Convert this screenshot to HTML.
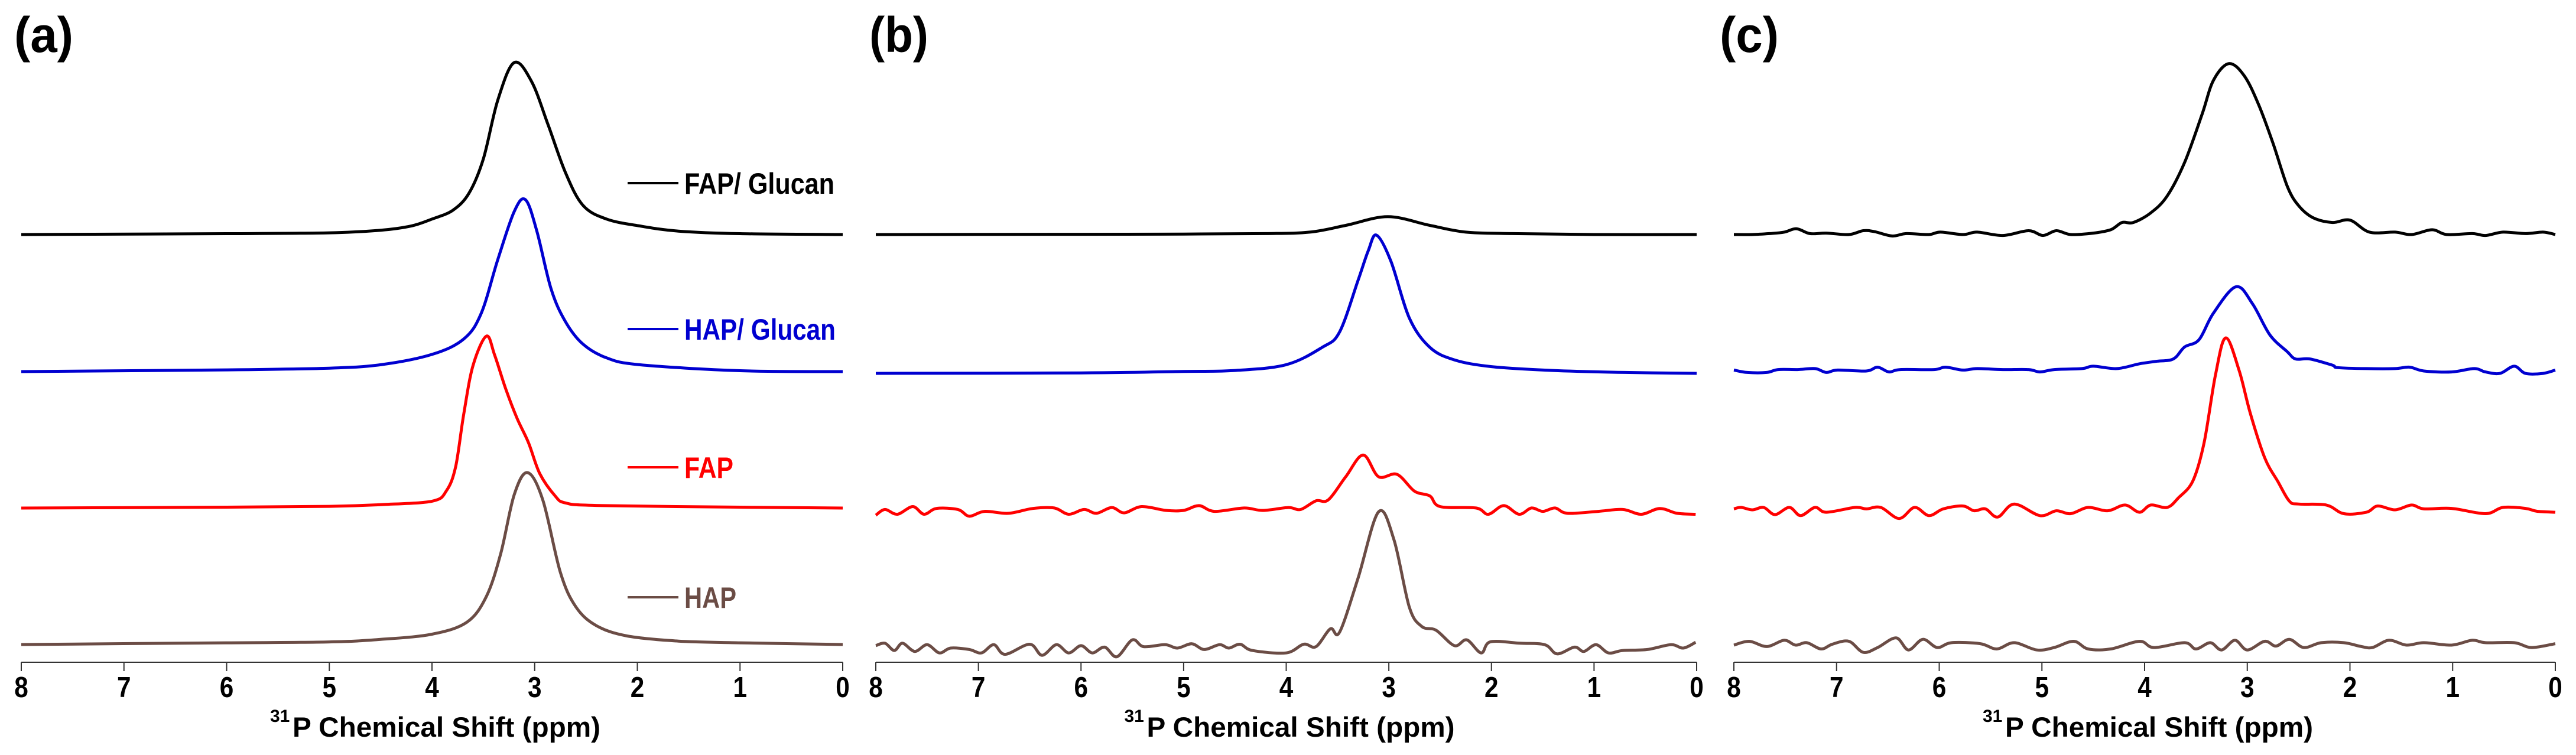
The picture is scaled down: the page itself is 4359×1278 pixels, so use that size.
<!DOCTYPE html>
<html><head><meta charset="utf-8"><style>
html,body{margin:0;padding:0;background:#fff;}
svg{display:block;font-family:"Liberation Sans",Arial,sans-serif;font-weight:bold;}
</style></head><body>
<svg id="chart" width="4359" height="1278" viewBox="0 0 4359 1278" xmlns="http://www.w3.org/2000/svg"></svg>
<script>
// ---- data: [ppm, intensity above baseline] ----
const tickLabels = ["8","7","6","5","4","3","2","1","0"];
const seriesNames = ["FAP/ Glucan","HAP/ Glucan","FAP","HAP"];
const seriesColors = ["#000000","#0000d0","#ff0000","#6b4c45"];

const aBlack = [[8,0],[6,0.5],[5,1],[4.5,2.5],[4.2,5],[4.0,9],[3.8,14],[3.64,24],[3.5,44],[3.36,78],[3.2,100],[3.03,89],[2.87,64],[2.7,36],[2.53,17],[2.3,9],[1.98,5],[1.6,2],[1,0.5],[0,0]];
const aBlue = [[8,0],[6,1],[5,2],[4.5,4],[4.0,10],[3.69,19],[3.52,34],[3.36,65],[3.2,93],[3.09,100],[2.98,82],[2.84,48],[2.7,29],[2.53,16],[2.3,8],[1.98,4],[1.0,0.5],[0,0]];
const aRed = [[8,0],[6,0.5],[5,1],[4.5,2],[4.0,4],[3.86,10],[3.77,24],[3.69,55],[3.6,83],[3.47,100],[3.39,89],[3.28,69],[3.17,52],[3.06,38],[2.95,20],[2.8,7],[2.7,3],[2.4,1.5],[1,0.5],[0,0]];
const aBrown = [[8,0],[6,1],[5,1.5],[4.5,3],[4.0,6],[3.66,13],[3.47,28],[3.33,53],[3.2,87],[3.07,100],[2.92,84],[2.75,42],[2.6,22],[2.4,11],[2.1,5],[1.6,2],[1,1],[0,0]];

const bBlack = [[8,0],[6,0.5],[5,1],[4.2,2],[3.77,5],[3.42,19],[3.01,37],[2.6,19],[2.25,5],[1.8,2],[1,0],[0,0]];
const bBlue = [[8,0],[6,1],[5,4],[4.5,6],[4.0,18],[3.65,54],[3.48,86],[3.3,193],[3.2,255],[3.12,287],[2.98,233],[2.8,115],[2.6,54],[2.36,28],[2.0,14],[1.4,6],[0.7,2],[0,0]];
const bRed = [[8,-10],[7.91,2],[7.79,-8],[7.64,8],[7.53,-8],[7.41,4],[7.2,2],[7.09,-12],[6.94,-2],[6.71,-6],[6.47,4],[6.26,5],[6.12,-8],[5.97,2],[5.85,-6],[5.7,6],[5.58,-5],[5.41,8],[5.17,0],[5.0,0],[4.85,10],[4.7,-2],[4.41,5],[4.23,0],[3.98,6],[3.86,2],[3.71,20],[3.59,22],[3.42,70],[3.25,115],[3.1,70],[2.92,75],[2.75,40],[2.6,30],[2.5,8],[2.15,5],[2.03,-8],[1.88,10],[1.73,-8],[1.61,5],[1.5,-2],[1.38,5],[1.26,-6],[0.96,-2],[0.72,2],[0.54,-8],[0.36,4],[0.19,-6],[0.01,-8]];
const bBrown = [[8,5],[7.91,10],[7.82,-5],[7.74,10],[7.62,-7],[7.5,7],[7.38,-10],[7.27,0],[7.09,-3],[6.97,-10],[6.85,7],[6.74,-13],[6.5,8],[6.38,-15],[6.24,7],[6.12,-10],[6.0,5],[5.89,-10],[5.77,2],[5.65,-18],[5.5,17],[5.39,3],[5.18,7],[5.06,0],[4.92,9],[4.8,-3],[4.65,7],[4.56,0],[4.45,8],[4.33,-5],[4.0,-10],[3.83,8],[3.71,3],[3.57,40],[3.48,33],[3.3,145],[3.1,283],[2.95,225],[2.8,85],[2.68,45],[2.54,37],[2.36,5],[2.24,17],[2.1,-10],[2.01,13],[1.72,10],[1.48,7],[1.36,-12],[1.19,2],[1.1,-7],[0.98,7],[0.86,-10],[0.72,-5],[0.48,-3],[0.25,7],[0.13,0],[0.01,12]];

const cBlack = [[8,0],[7.82,0],[7.65,2],[7.51,5],[7.39,12],[7.26,2],[7.1,3],[6.88,0],[6.74,8],[6.63,6],[6.46,-3],[6.32,2],[6.1,0],[5.99,5],[5.77,0],[5.63,5],[5.38,-2],[5.13,8],[4.99,-2],[4.86,8],[4.72,0],[4.5,3],[4.33,10],[4.22,25],[4.11,25],[3.94,45],[3.78,80],[3.61,150],[3.44,250],[3.33,320],[3.18,355],[3.03,330],[2.89,270],[2.75,190],[2.61,100],[2.5,60],[2.36,35],[2.17,25],[2.0,30],[1.81,5],[1.56,5],[1.4,0],[1.2,10],[1.06,0],[0.81,2],[0.68,-2],[0.51,5],[0.29,2],[0.12,5],[0,0]];
const cBlue = [[8,2],[7.87,-3],[7.68,-3],[7.57,3],[7.38,3],[7.21,5],[7.1,-3],[6.99,2],[6.71,0],[6.6,8],[6.49,-2],[6.38,3],[6.05,3],[5.94,8],[5.77,2],[5.63,5],[5.38,3],[5.13,3],[5.02,-2],[4.88,3],[4.61,5],[4.5,10],[4.27,5],[4.05,15],[3.89,20],[3.72,25],[3.61,50],[3.47,65],[3.33,120],[3.11,175],[2.95,140],[2.78,75],[2.61,40],[2.53,25],[2.39,25],[2.17,12],[2.12,7],[1.84,5],[1.56,5],[1.42,8],[1.28,0],[1.01,-2],[0.79,5],[0.68,-2],[0.54,-5],[0.4,10],[0.29,-5],[0.12,-5],[0,2]];
const cRed = [[8,2],[7.93,5],[7.82,0],[7.71,5],[7.6,-10],[7.46,5],[7.35,-12],[7.21,5],[7.1,-5],[6.82,5],[6.71,2],[6.57,5],[6.39,-18],[6.24,5],[6.1,-12],[5.96,2],[5.77,8],[5.66,-2],[5.55,2],[5.43,-15],[5.27,12],[5.02,-12],[4.86,-2],[4.72,-8],[4.55,5],[4.36,-2],[4.19,10],[4.05,-5],[3.94,10],[3.78,5],[3.67,25],[3.53,60],[3.42,140],[3.31,280],[3.21,357],[3.08,290],[2.97,200],[2.83,108],[2.7,58],[2.59,18],[2.5,12],[2.23,10],[2.06,-8],[1.84,-5],[1.73,8],[1.56,0],[1.4,10],[1.28,2],[1.01,3],[0.68,-8],[0.51,5],[0.29,3],[0.18,-3],[0,-5]];
const cBrown = [[8,0],[7.85,8],[7.68,-3],[7.51,10],[7.4,0],[7.29,5],[7.15,-8],[7.04,2],[6.88,8],[6.74,-15],[6.6,-5],[6.42,15],[6.3,-10],[6.16,12],[6.02,-5],[5.88,5],[5.6,3],[5.44,-8],[5.27,5],[5.05,-10],[4.88,-5],[4.69,8],[4.55,-8],[4.33,-8],[4.05,8],[3.91,-5],[3.61,5],[3.5,-8],[3.36,5],[3.25,-10],[3.12,10],[3.0,-10],[2.83,8],[2.72,-2],[2.59,12],[2.45,-5],[2.28,5],[2.06,5],[1.89,-3],[1.78,-5],[1.62,10],[1.45,0],[1.28,5],[1.01,0],[0.81,10],[0.68,5],[0.4,5],[0.23,-5],[0,3]];

// ---- layout ----
const NS="http://www.w3.org/2000/svg";
const svg=document.getElementById('chart');
function mk(tag,attrs,parent){const e=document.createElementNS(NS,tag);for(const k in attrs)e.setAttribute(k,attrs[k]);(parent||svg).appendChild(e);return e;}
const axisY=1121;
const scaleA=2.91;
const scaleZ=0.815;
const panels=[
 {id:'a',x0:36,x1:1426,label:'(a)',lx:24,base:[397,629,860,1091],k:scaleA,data:[aBlack,aBlue,aRed,aBrown]},
 {id:'b',x0:1482,x1:2871,label:'(b)',lx:1471,base:[397,632,864,1097],k:scaleZ,data:[bBlack,bBlue,bRed,bBrown]},
 {id:'c',x0:2934,x1:4324,label:'(c)',lx:2910,base:[397,628,863,1092],k:scaleZ,data:[cBlack,cBlue,cRed,cBrown]}
];
function smooth(pts){
 let d='M'+pts[0][0].toFixed(1)+','+pts[0][1].toFixed(1);
 for(let i=0;i<pts.length-1;i++){
  const p0=pts[Math.max(0,i-1)],p1=pts[i],p2=pts[i+1],p3=pts[Math.min(pts.length-1,i+2)];
  const c1x=p1[0]+(p2[0]-p0[0])/6,c1y=p1[1]+(p2[1]-p0[1])/6;
  const c2x=p2[0]-(p3[0]-p1[0])/6,c2y=p2[1]-(p3[1]-p1[1])/6;
  d+='C'+c1x.toFixed(1)+','+c1y.toFixed(1)+' '+c2x.toFixed(1)+','+c2y.toFixed(1)+' '+p2[0].toFixed(1)+','+p2[1].toFixed(1);
 }
 return d;
}
panels.forEach(p=>{
 const g=mk('g',{});
 
 
 const xs=ppm=>p.x0+(8-ppm)/8*(p.x1-p.x0);
 const lbl=mk('text',{x:p.lx,y:88,'font-size':84,textLength:100,lengthAdjust:'spacingAndGlyphs'},g);
 lbl.textContent=p.label;
 
 
 const ax=mk('line',{x1:p.x0,x2:p.x1,y1:axisY,y2:axisY,stroke:'#333','stroke-width':2},g);
 
 
 tickLabels.forEach((t,i)=>{
  const v=+t;const x=xs(v);
  const tk=mk('line',{x1:x,x2:x,y1:axisY,y2:axisY+15,stroke:'#333','stroke-width':2},g);
  
  
  const tl=mk('text',{x:0,y:0,'font-size':47,'text-anchor':'middle',transform:'translate('+x.toFixed(1)+',1180) scale(0.9,1.05)'},g);
  tl.textContent=t;
  
  
 });
 const cx=(p.x0+p.x1)/2;
 const tx0=cx-274;
 const sup=mk('text',{x:tx0,y:1222,'font-size':30},g);
 sup.textContent='31';
 
 
 const tt=mk('text',{x:tx0+38,y:1247,'font-size':47,textLength:521,lengthAdjust:'spacingAndGlyphs'},g);
 tt.textContent='P Chemical Shift (ppm)';
 
 
 p.data.forEach((ser,si)=>{
  const pts=ser.map(q=>[xs(q[0]),p.base[si]-q[1]*p.k]);
  const path=mk('path',{d:smooth(pts),fill:'none',stroke:seriesColors[si],'stroke-width':5,'stroke-linejoin':'round'},g);
  
  
 });
});
const legY=[310,557,791,1011];
const legW=[254,256,83,88];
seriesNames.forEach((n,i)=>{
 const l=mk('line',{x1:1062,x2:1148,y1:legY[i],y2:legY[i],stroke:seriesColors[i],'stroke-width':4});
 
 
 const t=mk('text',{x:1158,y:legY[i]+18,'font-size':50,fill:seriesColors[i],textLength:legW[i],lengthAdjust:'spacingAndGlyphs'});
 t.textContent=n;
 
 
});
</script>
</body></html>
